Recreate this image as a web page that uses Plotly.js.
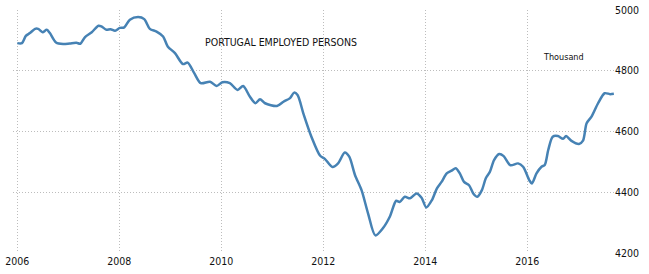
<!DOCTYPE html>
<html>
<head>
<meta charset="utf-8">
<script src="https://cdn.plot.ly/plotly-3.0.1.min.js"></script>
<style>html,body{margin:0;padding:0;background:#fff;}#chart{width:649px;height:274px;}</style>
</head>
<body>
<div id="chart"></div>
<script>
const dates = [
"2006-01-01","2006-02-03","2006-03-03","2006-04-01","2006-05-08","2006-05-30","2006-07-01","2006-07-31","2006-08-22","2006-10-05","2006-11-25",
"2007-01-12","2007-02-28","2007-03-28","2007-05-01","2007-06-18","2007-08-05","2007-08-26","2007-10-01","2007-10-30","2007-12-02",
"2008-01-05","2008-02-06","2008-03-17","2008-05-15","2008-06-28","2008-08-07","2008-09-24","2008-11-10","2008-12-13",
"2009-02-03","2009-04-01","2009-05-05","2009-06-21","2009-08-07","2009-10-12","2009-11-28",
"2010-01-08","2010-03-03","2010-04-27","2010-06-06","2010-07-24","2010-09-02","2010-10-05","2010-11-10",
"2011-02-03","2011-03-22","2011-05-08","2011-06-06","2011-07-01","2011-08-11","2011-10-08","2011-12-10",
"2012-01-12","2012-03-07","2012-04-16","2012-06-03","2012-07-05","2012-08-15","2012-10-01","2012-11-17",
"2013-01-08","2013-03-07","2013-04-23","2013-06-06","2013-07-01","2013-08-07","2013-09-13","2013-10-30","2013-12-05",
"2014-01-08","2014-02-17","2014-03-25","2014-04-27","2014-06-03","2014-07-08","2014-08-07","2014-09-05","2014-10-05","2014-11-10","2014-12-10",
"2015-01-08","2015-02-10","2015-03-10","2015-04-08","2015-05-08","2015-06-14","2015-07-16","2015-09-02","2015-10-27","2015-12-02",
"2016-01-15","2016-02-03","2016-03-07","2016-04-12","2016-05-05","2016-05-30","2016-07-01","2016-08-07","2016-09-13","2016-10-05","2016-11-10",
"2017-01-05","2017-02-03","2017-03-01","2017-04-05","2017-05-22","2017-07-08","2017-08-15","2017-09-12"
];
const employed = [
4891,4891,4915,4924,4938,4938,4927,4935,4924,4893,4888,
4890,4892,4889,4911,4927,4948,4946,4935,4937,4932,
4941,4943,4968,4977,4970,4938,4929,4913,4880,
4858,4822,4827,4792,4759,4764,4750,
4762,4759,4737,4750,4715,4693,4706,4693,
4684,4698,4710,4728,4720,4660,4583,4520,
4510,4483,4495,4531,4517,4457,4407,4330,
4258,4284,4321,4372,4368,4385,4380,4396,4382,
4350,4374,4413,4434,4462,4471,4479,4462,4434,4423,4396,
4385,4407,4446,4467,4506,4526,4519,4489,4495,4484,
4440,4429,4462,4484,4490,4539,4583,4585,4576,4585,4570,
4559,4570,4627,4649,4693,4726,4723,4724
];
const yTicks = [4200, 4400, 4600, 4800, 5000];
const chartTitle = "PORTUGAL EMPLOYED PERSONS";
const unitLabel = "Thousand";

const FONT = "DejaVu Sans Condensed, DejaVu Sans, sans-serif";
const trace = {
  x: dates, y: employed, type: "scatter", mode: "lines",
  line: {color: "#4682b4", width: 2.5, shape: "spline", smoothing: 0.8},
  hoverinfo: "skip"
};
const layout = {
  width: 649, height: 274,
  margin: {l: 13, r: 35, t: 10, b: 21, pad: 0},
  paper_bgcolor: "#fff", plot_bgcolor: "#fff",
  showlegend: false,
  font: {family: FONT, size: 10.5, color: "#111"},
  xaxis: {
    type: "date", range: ["2005-12-01", "2017-09-13"],
    tick0: "2006-01-01", dtick: "M24", tickformat: "%Y",
    showgrid: true, gridcolor: "#bdbdbd", griddash: "1px,2px", gridwidth: 1,
    showline: false, zeroline: false, ticks: "", ticklen: 0,
    tickfont: {family: FONT, size: 10.5, color: "#111"}
  },
  yaxis: {
    range: [4200, 5000], side: "right", tickvals: yTicks,
    showgrid: true, gridcolor: "#bdbdbd", griddash: "1px,2px", gridwidth: 1,
    showline: false, zeroline: false, ticks: "", ticklen: 0,
    tickfont: {family: FONT, size: 10.5, color: "#111"}
  },
  annotations: [
    {text: chartTitle, xref: "paper", yref: "paper", x: 0.316, y: 0.868,
     xanchor: "left", yanchor: "middle", showarrow: false,
     font: {family: FONT, size: 10.5, color: "#111"}},
    {text: unitLabel, xref: "paper", yref: "paper", x: 0.879, y: 0.8086,
     xanchor: "left", yanchor: "middle", showarrow: false,
     font: {family: FONT, size: 9, color: "#111"}}
  ]
};
Plotly.newPlot("chart", [trace], layout, {displayModeBar: false, staticPlot: true});
</script>
</body>
</html>
